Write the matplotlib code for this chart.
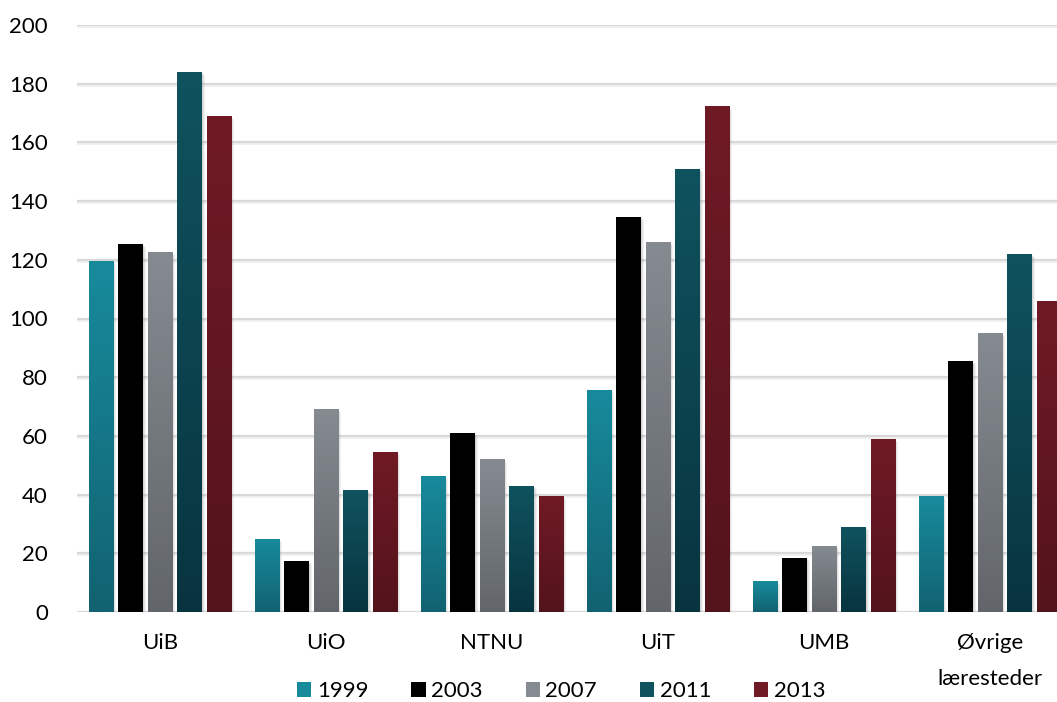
import numpy as np
import matplotlib
matplotlib.use("Agg")
import matplotlib.pyplot as plt
from matplotlib.patches import Patch, Rectangle
from matplotlib.lines import Line2D
from matplotlib.colors import LinearSegmentedColormap
from matplotlib.transforms import ScaledTranslation

plt.rcParams['font.family'] = ['Lato', 'DejaVu Sans']

categories = ["UiB", "UiO", "NTNU", "UiT", "UMB", "Øvrige\nlæresteder"]
years = ["1999", "2003", "2007", "2011", "2013"]
v1999 = [119.5, 25, 46.5, 75.5, 10.5, 39.5]
v2003 = [125.5, 17.5, 61, 134.5, 18.5, 85.5]
v2007 = [122.5, 69, 52, 126, 22.5, 95]
v2011 = [184, 41.5, 43, 151, 29, 122]
v2013 = [169, 54.5, 39.5, 172.5, 59, 106]
series = [v1999, v2003, v2007, v2011, v2013]
y_ticks = [0, 20, 40, 60, 80, 100, 120, 140, 160, 180, 200]

top_colors = ["#178b9c", "#000000", "#868b91", "#0f535e", "#701a25"]
bot_colors = ["#126271", "#000000", "#62666b", "#08343f", "#53131b"]

fig = plt.figure(figsize=(10.57, 7.02), dpi=100)
ax = fig.add_axes([77/1057, 90/702, 996/1057, 587/702])
ax.set_xlim(-0.5, len(categories) - 0.5)
ax.set_ylim(0, 200)

pitch = 0.178
width = 0.148
x = np.arange(len(categories))

# gridlines with soft shadow
shadow_tr = ax.get_yaxis_transform() + ScaledTranslation(0, -2/100, fig.dpi_scale_trans)
for t in y_ticks:
    ax.axhline(t, color="#d9d9d9", lw=1.6, zorder=1)
    ax.add_line(Line2D([0, 1], [t, t], color="#efefef", lw=1.2, zorder=0.9,
                       transform=shadow_tr))

for i, vals in enumerate(series):
    xs = x + (i - 2) * pitch
    cmap = LinearSegmentedColormap.from_list(f"g{i}", [bot_colors[i], top_colors[i]])
    bars = ax.bar(xs, vals, width=width, color=top_colors[i], zorder=3, label=years[i])
    for b in bars:
        bx, by = b.get_x(), b.get_y()
        bw, bh = b.get_width(), b.get_height()
        for dx, dy, a in [(3, -3, 0.10), (2, -2, 0.12), (1, -1, 0.14)]:
            sh = Rectangle((bx, by), bw, bh, facecolor="#7f7f7f", alpha=a, lw=0,
                           transform=ax.transData + ScaledTranslation(dx/100, dy/100, fig.dpi_scale_trans),
                           zorder=2)
            ax.add_patch(sh)
        grad = np.linspace(0, 1, 256).reshape(-1, 1)
        im = ax.imshow(grad, extent=[bx, bx + bw, by, by + bh], origin="lower",
                       aspect="auto", cmap=cmap, zorder=3.5)
        im.set_clip_path(b)

ax.set_xlim(-0.5, len(categories) - 0.5)
ax.set_ylim(0, 200)
ax.set_yticks(y_ticks)
ax.set_xticks(x)
ax.set_xticklabels(categories, fontsize=16, color="#000000", linespacing=1.98)
ax.tick_params(axis="y", labelsize=16, length=0, pad=21)
ax.tick_params(axis="x", length=0, pad=15)
for s in ax.spines.values():
    s.set_visible(False)

handles = [Patch(facecolor=top_colors[i], label=years[i]) for i in range(5)]
fig.legend(handles=handles, loc="center", bbox_to_anchor=(0.531, 11/702), ncol=5,
           frameon=False, fontsize=16, handlelength=0.64, handleheight=0.64,
           handletextpad=0.25, columnspacing=1.93, borderpad=0)

fig.savefig("out.png", dpi=100)
